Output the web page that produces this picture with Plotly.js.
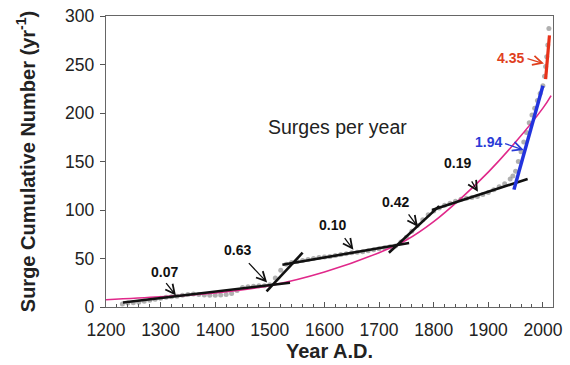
<!DOCTYPE html>
<html>
<head>
<meta charset="utf-8">
<script src="https://cdn.plot.ly/plotly-3.0.1.min.js"></script>
<style>html,body{margin:0;padding:0;background:#fff;}#chart{width:570px;height:365px;}</style>
</head>
<body>
<div id="chart"></div>
<script>
// Observed cumulative surge counts (gray points)
const obsYears = [1230,1240,1250,1260,1270,1280,1290,1300,1310,1320,1330,1340,1350,1360,1370,1380,1390,1400,1410,1420,1430,1440,1450,1460,1470,1480,1490,1500,1510,1520,1530,1540,1550,1560,1570,1580,1590,1600,1610,1620,1630,1640,1650,1660,1670,1680,1690,1700,1710,1720,1730,1740,1750,1760,1770,1780,1790,1800,1810,1820,1830,1840,1850,1860,1870,1880,1890,1900,1910,1920,1930,1940,1945,1950,1955,1960,1965,1970,1975,1980,1985,1990,1995,2000,2003,2005,2007,2009,2011];
const obsCounts = [3,4,4.5,5,6,7,8,9,10,10.5,11,12,13,13.5,13,12.5,12,12,12.5,13,14,17,20,21,21.5,22,22,23,30,38,44,46,47,48,49,50,51,51.5,52,53,54,55,56,56.5,57,58,59,60,61,62,63,67,72,78,84,90,95,99,102,105,107,109,111,112,113,114,116,118,121,124,127,132,135,140,150,160,170,180,190,198,205,213,220,228,238,248,258,270,287];

// Pink fitted curve
const fitYears = [1200,1300,1400,1500,1600,1700,1750,1800,1850,1900,1950,2000,2015];
const fitCounts = [7.5,10.5,14.5,22,36,56,69,88,112,139,170,205,218];

// Rate segments [x0,x1], [y0,y1]
const segRates = ['0.07','0.63','0.10','0.42','0.19'];
const segX = [[1231,1537],[1494,1560],[1523,1755],[1718,1810],[1797,1972]];
const segY = [[4.6,25],[16,56],[43.6,66],[56,104],[100,132]];
const blueX = [1947,2000], blueY = [121,228];
const redX = [2005,2012], redY = [235,280];

// Labels: text position, arrow tail, arrow tip
const labelText = ['0.07','0.63','0.10','0.42','0.19','1.94','4.35'];
const labelColor = ['#111','#111','#111','#111','#111','#2a3bd6','#e0401e'];
const labelX = [1308,1440,1614,1730,1844,1900,1940];
const labelY = [36.5,59,84.8,108.4,148.5,170,256.4];
const tailX = [1308,1459,1635,1752,1868,1928,1969];
const tailY = [26.2,46.8,72.5,97,131,169,256.4];
const tipX = [1328,1495,1653,1771,1881,1965,2002];
const tipY = [11.8,25.2,59,82.7,118.7,161.9,251];

const traces = [];
traces.push({x: obsYears, y: obsCounts, mode: 'markers', type: 'scatter',
  marker: {size: 5, color: 'rgba(150,150,150,0.75)'}, hoverinfo: 'skip'});
traces.push({x: fitYears, y: fitCounts, mode: 'lines', type: 'scatter',
  line: {color: '#e0288a', width: 1.6, shape: 'spline'}});
segX.forEach((sx, i) => traces.push({x: sx, y: segY[i], mode: 'lines', type: 'scatter',
  line: {color: '#111', width: 2.6}}));
traces.push({x: blueX, y: blueY, mode: 'lines', type: 'scatter', line: {color: '#2233dd', width: 3.5}});
traces.push({x: redX, y: redY, mode: 'lines', type: 'scatter', line: {color: '#e8321a', width: 3.2}});

const annotations = [];
labelText.forEach((t, i) => {
  annotations.push({x: labelX[i], y: labelY[i], xref: 'x', yref: 'y', text: '<b>' + t + '</b>',
    showarrow: false, font: {family: 'Liberation Sans, Arial, sans-serif', size: 14, color: labelColor[i]}});
  annotations.push({x: tipX[i], y: tipY[i], xref: 'x', yref: 'y', ax: tailX[i], ay: tailY[i],
    axref: 'x', ayref: 'y', text: '', showarrow: true, arrowhead: 5, arrowsize: 1.4,
    arrowwidth: 1.3, arrowcolor: labelColor[i]});
});
annotations.push({x: 1624, y: 185.5, xref: 'x', yref: 'y', text: 'Surges per year', showarrow: false,
  font: {family: 'Liberation Sans, Arial, sans-serif', size: 19.5, color: '#222'}});

const layout = {
  width: 570, height: 365,
  margin: {l: 106, r: 17, t: 15.5, b: 57.5},
  paper_bgcolor: '#fff', plot_bgcolor: '#fff',
  showlegend: false,
  font: {family: 'Liberation Sans, Arial, sans-serif', color: '#222'},
  xaxis: {range: [1200, 2018.5], dtick: 100, tick0: 1200, ticks: 'inside', ticklen: 5, tickcolor: '#555',
    showline: true, linecolor: '#666', linewidth: 1.3, mirror: true, showgrid: false, zeroline: false,
    tickfont: {size: 17.5, color: '#222'}, ticklabelstandoff: 7,
    minor: {dtick: 20, ticks: 'inside', ticklen: 3, tickcolor: '#555', showgrid: false},
    title: {text: '<b>Year A.D.</b>', font: {size: 20, color: '#222'}, standoff: 4}},
  yaxis: {range: [0, 300], dtick: 50, ticks: 'outside', ticklen: 5, tickcolor: '#555',
    showline: true, linecolor: '#666', linewidth: 1.3, mirror: true, showgrid: false, zeroline: false,
    tickfont: {size: 17.5, color: '#222'}, ticklabelstandoff: 2,
    title: {text: '<b>Surge Cumulative Number (yr<sup>-1</sup>)</b>', font: {size: 20, color: '#222'}, standoff: 24}},
  annotations: annotations
};

Plotly.newPlot('chart', traces, layout, {displayModeBar: false, staticPlot: true});
</script>
</body>
</html>
